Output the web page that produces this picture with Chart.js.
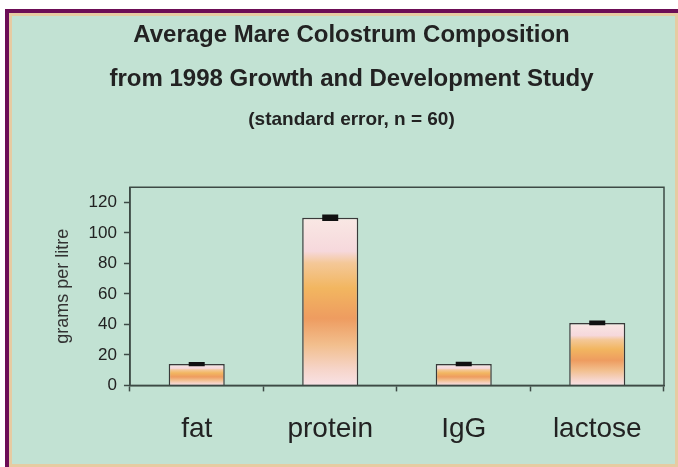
<!DOCTYPE html>
<html>
<head>
<meta charset="utf-8">
<script src="https://cdn.jsdelivr.net/npm/chart.js@4/dist/chart.umd.min.js"></script>
<style>
  body { margin: 0; background: #fff; }
  #frame {
    position: absolute; left: 5px; top: 9px; width: 673px; height: 458px;
    box-sizing: border-box;
    border-top: 4px solid #6c0d56; border-left: 4px solid #6c0d56;
    background: #c2e2d3;
    box-shadow: inset 0 0 0 3px #e6cba2;
  }
  #wrap { position: absolute; left: 0; top: 0; width: 678px; height: 467px; }
</style>
</head>
<body>
<div id="frame"></div>
<div id="wrap"><canvas id="chart"></canvas></div>
<script>
// Mare colostrum composition, grams per litre, with standard error (n = 60)
const CATEGORIES = ["fat", "protein", "IgG", "lactose"];
const MEANS = [14, 110, 14, 41];
const STD_ERRORS = [1.4, 2.2, 1.5, 1.5];
const Y_TICKS = [0, 20, 40, 60, 80, 100, 120];

const FONT = "'Liberation Sans', Arial, sans-serif";
const AXIS_COLOR = "#3d4a45";
const TEXT_COLOR = "#222";

// peachy banded fill, stretched over each bar's own height
const BAND_STOPS = [
  [0, "#f9e8e4"],
  [0.2, "#f6d8dc"],
  [0.27, "#f4c898"],
  [0.42, "#f2b660"],
  [0.6, "#ee9c60"],
  [0.76, "#f2bf8e"],
  [0.9, "#f6d4c8"],
  [1, "#f8e2e6"],
];

function barFill(ctx) {
  const chart = ctx.chart;
  const y = chart.scales.y;
  if (!y) return "#f2b46a";
  const top = y.getPixelForValue(MEANS[ctx.dataIndex]);
  const base = y.getPixelForValue(0);
  if (!Number.isFinite(top) || !Number.isFinite(base) || base <= top) return "#f2b46a";
  const g = chart.ctx.createLinearGradient(0, top, 0, base);
  BAND_STOPS.forEach(([at, color]) => g.addColorStop(at, color));
  return g;
}

// Excel-style plot area box (top and right sides)
const plotBox = {
  id: "plotBox",
  afterDraw(chart) {
    const { ctx, chartArea: a } = chart;
    ctx.save();
    ctx.strokeStyle = AXIS_COLOR;
    ctx.lineWidth = 1.5;
    ctx.strokeRect(a.left, a.top, a.right - a.left, a.bottom - a.top);
    ctx.restore();
  },
};

new Chart(document.getElementById("chart"), {
  type: "bar",
  data: {
    labels: CATEGORIES,
    datasets: [
      {
        label: "standard error",
        data: MEANS.map((m, i) => [m - STD_ERRORS[i], m + STD_ERRORS[i]]),
        backgroundColor: "#111",
        borderWidth: 0,
        grouped: false,
        barPercentage: 0.12,
        categoryPercentage: 1,
        order: 0,
      },
      {
        label: "grams per litre",
        data: MEANS,
        backgroundColor: barFill,
        borderColor: "#3a3a3a",
        borderWidth: 1.5,
        grouped: false,
        barPercentage: 0.42,
        categoryPercentage: 1,
        order: 1,
      },
    ],
  },
  options: {
    responsive: true,
    maintainAspectRatio: false,
    animation: false,
    layout: { padding: { top: 0, left: 39, right: 14, bottom: 0 } },
    plugins: {
      legend: { display: false },
      tooltip: { enabled: false },
      title: {
        display: true,
        text: ["Average Mare Colostrum Composition", "from 1998 Growth and Development Study"],
        color: TEXT_COLOR,
        font: { family: FONT, size: 24, weight: "bold", lineHeight: 1.85 },
        padding: { top: 13, bottom: 0 },
      },
      subtitle: {
        display: true,
        text: "(standard error, n = 60)",
        color: TEXT_COLOR,
        font: { family: FONT, size: 19, weight: "bold", lineHeight: 1.55 },
        padding: { top: 3, bottom: 53 },
      },
    },
    scales: {
      x: {
        grid: {
          offset: true,
          drawOnChartArea: false,
          drawTicks: true,
          tickLength: 6,
          tickColor: AXIS_COLOR,
          tickWidth: 1.5,
        },
        border: { display: true, color: AXIS_COLOR, width: 1.5 },
        ticks: { color: TEXT_COLOR, font: { family: FONT, size: 28 }, padding: 21 },
      },
      y: {
        min: 0,
        max: 130,
        afterBuildTicks: (scale) => {
          scale.ticks = Y_TICKS.map((v) => ({ value: v }));
        },
        grid: {
          drawOnChartArea: false,
          drawTicks: true,
          tickLength: 6,
          tickColor: AXIS_COLOR,
          tickWidth: 1.5,
        },
        border: { display: true, color: AXIS_COLOR, width: 1.5 },
        ticks: { color: TEXT_COLOR, font: { family: FONT, size: 17 }, padding: 7 },
        title: {
          display: true,
          text: "grams per litre",
          color: "#333",
          font: { family: FONT, size: 18 },
          padding: { top: 13, bottom: 8 },
        },
      },
    },
  },
  plugins: [plotBox],
});
</script>
</body>
</html>
